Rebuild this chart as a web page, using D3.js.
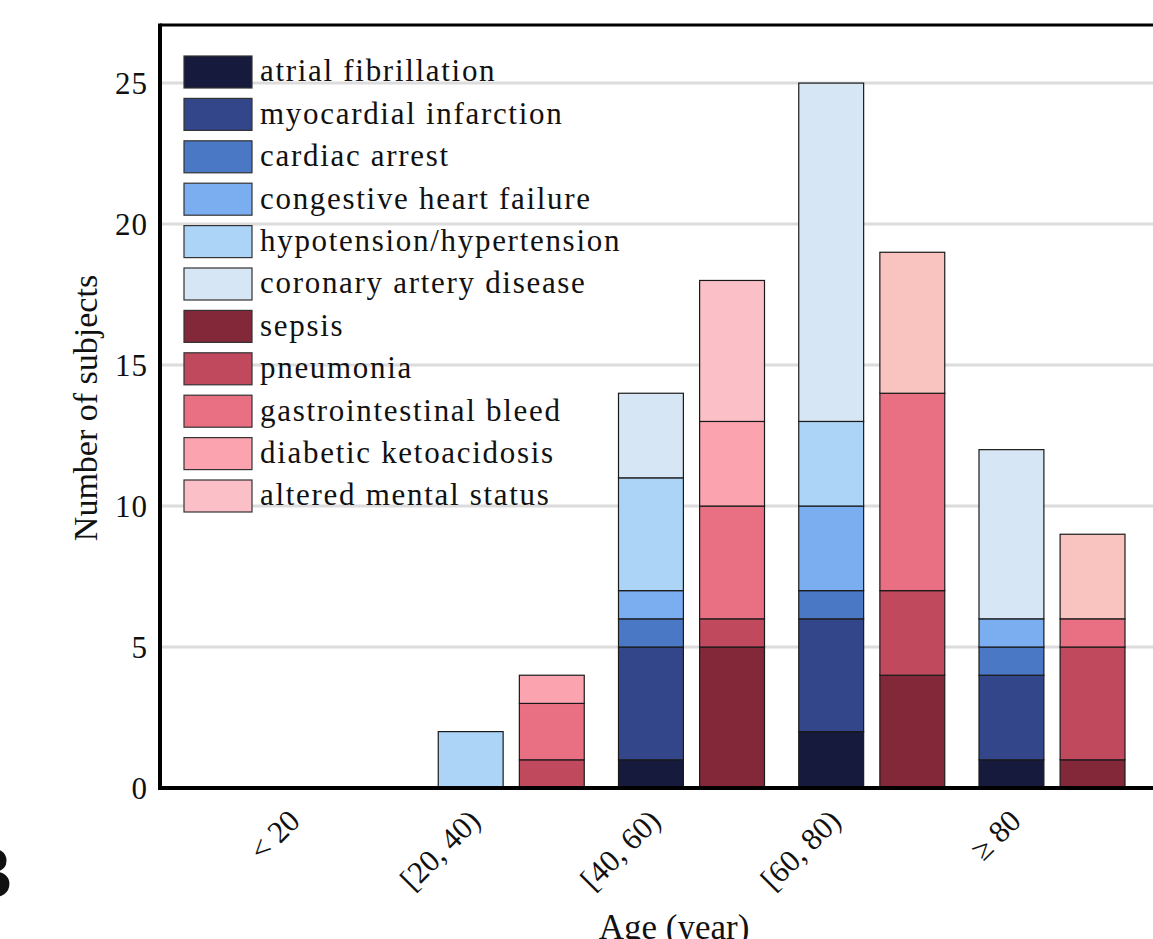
<!DOCTYPE html>
<html><head><meta charset="utf-8">
<script src="https://cdn.jsdelivr.net/npm/d3@7"></script>
<style>html,body{margin:0;padding:0;background:#fff;overflow:hidden}</style>
</head><body>
<svg id="chart" width="1153" height="939"></svg>
<script>
// ---- data ----
const ageGroups = ["<20", "[20,40)", "[40,60)", "[60,80)", ">=80"];
const ageTickLabels = ["< 20", "[20, 40)", "[40, 60)", "[60, 80)", "\u2265 80"];
const yTicks = [0, 5, 10, 15, 20, 25];

const cardiacNames = ["atrial fibrillation", "myocardial infarction", "cardiac arrest",
  "congestive heart failure", "hypotension/hypertension", "coronary artery disease"];
const atrialFibrillation   = [0, 0, 1, 2, 1];
const myocardialInfarction = [0, 0, 4, 4, 3];
const cardiacArrest        = [0, 0, 1, 1, 1];
const congestiveHeartFailure = [0, 0, 1, 3, 1];
const hypoHypertension     = [0, 2, 4, 3, 0];
const coronaryArteryDisease = [0, 0, 3, 12, 6];

const nonCardiacNames = ["sepsis", "pneumonia", "gastrointestinal bleed",
  "diabetic ketoacidosis", "altered mental status", "other"];
const sepsis               = [0, 0, 5, 4, 1];
const pneumonia            = [0, 1, 1, 3, 4];
const giBleed              = [0, 2, 4, 7, 1];
const diabeticKetoacidosis = [0, 1, 3, 0, 0];
const alteredMentalStatus  = [0, 0, 5, 0, 0];
const otherNonCardiac      = [0, 0, 0, 5, 3];

const cardiacColors = ["#161a3d", "#33468a", "#4a78c4", "#7aaef0", "#acd4f7", "#d6e6f4"];
const nonCardiacColors = ["#822838", "#c1495e", "#e97083", "#fba3ae", "#fbbfc8", "#f9c4bf"];
const legendNames = cardiacNames.concat(nonCardiacNames.slice(0, 5));
const legendColors = cardiacColors.concat(nonCardiacColors.slice(0, 5));

// ---- build tables ----
const cardiacSeries = [atrialFibrillation, myocardialInfarction, cardiacArrest,
  congestiveHeartFailure, hypoHypertension, coronaryArteryDisease];
const nonCardiacSeries = [sepsis, pneumonia, giBleed, diabeticKetoacidosis,
  alteredMentalStatus, otherNonCardiac];
function table(names, series) {
  return ageGroups.map((g, i) => {
    const row = {group: g};
    names.forEach((n, k) => row[n] = series[k][i]);
    return row;
  });
}
const cardiacTable = table(cardiacNames, cardiacSeries);
const nonCardiacTable = table(nonCardiacNames, nonCardiacSeries);

// ---- layout ----
const svg = d3.select("#chart");
const plotLeft = 160, plotTop = 25, plotBottom = 788, plotRight = 1160;
const FONT = "'Liberation Serif', 'Times New Roman', serif";

const x0 = d3.scaleBand().domain(ageGroups).range([248, 1149.25]).padding(0);
const x1 = d3.scaleBand().domain(["cardiac", "noncardiac"])
  .range([10, 156]).paddingInner(0.2).paddingOuter(0);
const y = d3.scaleLinear().domain([0, 27.06]).range([plotBottom, plotTop]);

// gridlines
svg.append("g").selectAll("line").data(yTicks.filter(d => d > 0)).join("line")
  .attr("x1", plotLeft).attr("x2", plotRight)
  .attr("y1", d => y(d)).attr("y2", d => y(d))
  .attr("stroke", "#dcdcdc").attr("stroke-width", 3);

// bars
function drawStack(tbl, names, colors, side) {
  const stack = d3.stack().keys(names)(tbl);
  const g = svg.append("g");
  stack.forEach((layer, k) => {
    g.append("g").selectAll("rect")
      .data(layer.filter(d => d[1] - d[0] > 0)).join("rect")
      .attr("x", d => x0(d.data.group) + x1(side))
      .attr("width", x1.bandwidth())
      .attr("y", d => y(d[1]))
      .attr("height", d => y(d[0]) - y(d[1]))
      .attr("fill", colors[k])
      .attr("stroke", "#1a1a1a").attr("stroke-width", 1.2);
  });
}
drawStack(cardiacTable, cardiacNames, cardiacColors, "cardiac");
drawStack(nonCardiacTable, nonCardiacNames, nonCardiacColors, "noncardiac");

// axis frame
svg.append("line").attr("x1", plotLeft).attr("x2", plotRight)
  .attr("y1", plotTop).attr("y2", plotTop).attr("stroke", "#000").attr("stroke-width", 3);
svg.append("line").attr("x1", plotLeft).attr("x2", plotRight)
  .attr("y1", plotBottom).attr("y2", plotBottom).attr("stroke", "#000").attr("stroke-width", 4);
svg.append("line").attr("x1", plotLeft).attr("x2", plotLeft)
  .attr("y1", plotTop - 1.5).attr("y2", plotBottom + 2).attr("stroke", "#000").attr("stroke-width", 4);

// y axis
const yAxis = d3.axisLeft(y).tickValues(yTicks).tickSize(0).tickPadding(12);
const yg = svg.append("g").attr("transform", `translate(${plotLeft},0)`).call(yAxis);
yg.select(".domain").remove();
yg.selectAll("text").attr("font-family", FONT).attr("font-size", 31).attr("fill", "#111")
  .attr("letter-spacing", "1px").attr("dy", "0.35em");

// x axis labels
const xAxis = d3.axisBottom(x0).tickSize(0).tickFormat((d, i) => ageTickLabels[i]);
const xg = svg.append("g").attr("transform", `translate(0,${plotBottom})`).call(xAxis);
xg.select(".domain").remove();
xg.selectAll("text")
  .attr("font-family", FONT).attr("font-size", 31).attr("fill", "#111")
  .attr("text-anchor", "end")
  .attr("transform", "translate(-44,27) rotate(-45)")
  .attr("x", 0).attr("y", 0).attr("dy", "0.35em");

// axis titles
svg.append("text").attr("x", 674).attr("y", 939).attr("text-anchor", "middle")
  .attr("font-family", FONT).attr("font-size", 35).attr("fill", "#111").text("Age (year)");
svg.append("text").attr("transform", "translate(97,408) rotate(-90)")
  .attr("text-anchor", "middle").attr("font-family", FONT).attr("font-size", 34)
  .attr("fill", "#111").text("Number of subjects");

// panel letter
svg.append("text").attr("x", -40).attr("y", 898).attr("font-family", "'Liberation Sans', Arial, sans-serif")
  .attr("font-weight", "bold").attr("font-size", 73).attr("fill", "#111").text("B");

// legend
const lg = svg.append("g");
const legY = d3.scaleLinear().domain([0, 10]).range([72, 496]);
legendNames.forEach((n, i) => {
  lg.append("rect").attr("x", 184).attr("y", legY(i) - 16).attr("width", 68).attr("height", 32)
    .attr("fill", legendColors[i]).attr("stroke", "#333").attr("stroke-width", 1.2);
  lg.append("text").attr("x", 260).attr("y", legY(i)).attr("dy", "0.3em")
    .attr("font-family", FONT).attr("font-size", 31).attr("letter-spacing", "1.7px")
    .attr("fill", "#111").text(n);
});
</script>
</body></html>
